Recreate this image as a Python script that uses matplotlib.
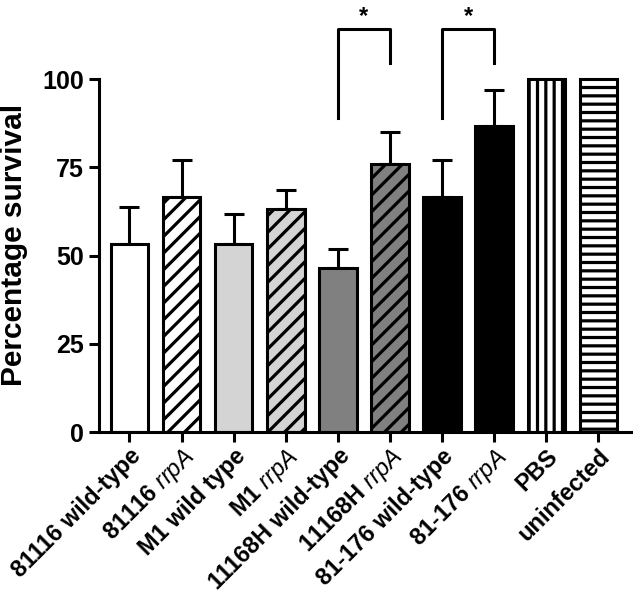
import numpy as np
import matplotlib
matplotlib.use("Agg")
import matplotlib.pyplot as plt

plt.rcParams['font.family'] = ['Liberation Sans', 'DejaVu Sans']
plt.rcParams['mathtext.fontset'] = 'custom'
plt.rcParams['mathtext.it'] = 'Liberation Sans:italic'
plt.rcParams['mathtext.rm'] = 'Liberation Sans:bold'
plt.rcParams['hatch.linewidth'] = 2.3

# donnees
labels = ['81116 wild-type', r'81116 $\mathit{rrpA}$', 'M1 wild type', r'M1 $\mathit{rrpA}$',
          '11168H wild-type', r'11168H $\mathit{rrpA}$', '81-176 wild-type', r'81-176 $\mathit{rrpA}$',
          'PBS', 'uninfected']
survie = [53.3, 66.5, 53.3, 63.2, 46.5, 75.9, 66.5, 86.7, 100, 100]
erreur = [10.4, 10.5, 8.4, 5.4, 5.5, 9.1, 10.5, 10.3, 0, 0]
couleurs = ['white', 'white', '#d4d4d4', '#d4d4d4', '#808080', '#808080', 'black', 'black', 'white', 'white']
hachures = [None, '//', None, '//', None, '//', None, None, '||', '--']

# comparaisons significatives (indices des barres)
comparaisons = [(4, 5), (6, 7)]

fig = plt.figure(figsize=(6.33, 5.93), dpi=100)
ax = fig.add_axes([0.1564, 0.2715, 0.842, 0.714])

x = np.arange(len(labels))
for i in range(len(labels)):
    ax.bar(x[i], survie[i], width=0.72, color=couleurs[i], edgecolor='black',
           linewidth=2.2, hatch=hachures[i], zorder=2)
    if erreur[i] > 0:
        ax.errorbar(x[i], survie[i], yerr=[[0], [erreur[i]]], fmt='none', ecolor='black',
                    elinewidth=2.2, capsize=7.5, capthick=2.2, zorder=1)

#crochets de significativite
for (a, b) in comparaisons:
    ax.plot([x[a], x[a], x[b], x[b]], [89, 114.3, 114.3, 104.5], color='black',
            lw=2.2, clip_on=False)
    ax.text((x[a] + x[b]) / 2, 116, '*', ha='center', va='baseline', fontsize=17,
            fontweight='bold', clip_on=False)

ax.set_xlim(-0.585, 9.645)
ax.set_ylim(0, 120)
ax.set_yticks([0, 25, 50, 75, 100])
ax.spines['left'].set_bounds(0, 100)
ax.spines['top'].set_visible(False)
ax.spines['right'].set_visible(False)
ax.spines['left'].set_linewidth(2.2)
ax.spines['bottom'].set_linewidth(2.2)
ax.tick_params(axis='x', width=2.2, length=7, pad=2)
ax.tick_params(axis='y', width=2.2, length=7, pad=4)
ax.set_xticks(x)
ax.set_xticklabels(labels, rotation=45, ha='right', rotation_mode='anchor',
                   fontsize=17, fontweight='bold')
for t in ax.get_yticklabels():
    t.set_fontsize(18)
    t.set_fontweight('bold')
ax.set_ylabel('Percentage survival', fontsize=21.5, fontweight='bold')
ax.yaxis.set_label_coords(-0.133, 0.441)

fig.savefig('out.png', dpi=100)
